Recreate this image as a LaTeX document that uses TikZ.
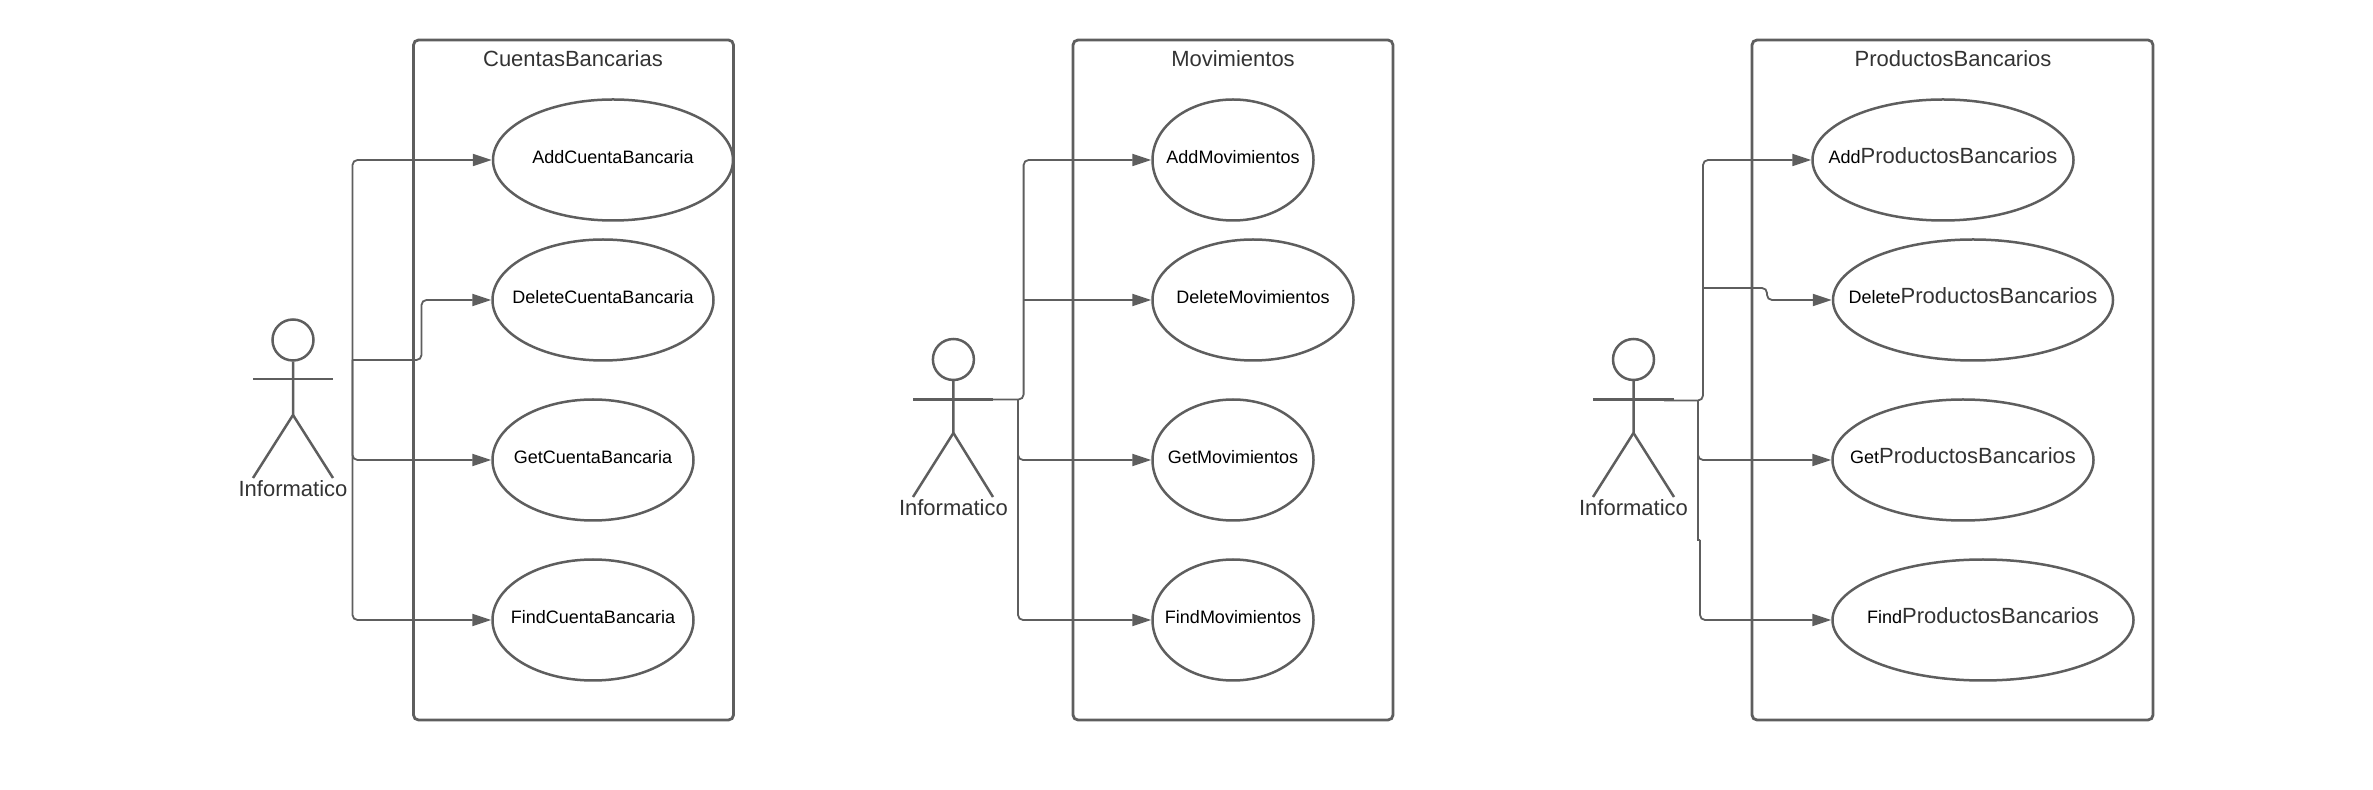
\documentclass[tikz,border=0pt]{standalone}
\usepackage{fontspec}
\setmainfont{Liberation Sans}
\usepackage{tikz}
\usetikzlibrary{arrows.meta,shapes.geometric}

\definecolor{umlgray}{HTML}{5E5E5E}
\definecolor{umltext}{HTML}{333333}
\newcommand{\wide}[1]{\makebox[0pt]{#1}}
\newcommand{\bigpart}[1]{{\fontsize{11}{13}\selectfont\color{umltext}#1}}

\tikzset{
  sysbox/.style={draw=umlgray,line width=1.4pt,rounded corners=2.5pt,minimum width=160pt,minimum height=340pt},
  systitle/.style={anchor=base,text=umltext,font=\fontsize{11}{13}\selectfont},
  usecase/.style={draw=umlgray,line width=1.25pt,ellipse,inner sep=0pt,minimum height=60.5pt,text height=7pt,text depth=3pt,font=\fontsize{9}{11}\selectfont},
  actorpart/.style={draw=umlgray,line width=1.25pt},
  actorhead/.style={actorpart,circle,inner sep=0pt,minimum size=20.5pt},
  actorname/.style={anchor=base,text=umltext,font=\fontsize{11}{13}\selectfont},
  link/.style={draw=umlgray,line width=.9pt,rounded corners=2.5pt,-{Triangle[length=9.5pt,width=6pt]}}
}

\begin{document}
\begin{tikzpicture}[x=.5pt,y=-.5pt]
      \useasboundingbox (0,0) rectangle (2373,790);

      % CuentasBancarias
      \node [sysbox] (box1) at (573.5,380) {};
      \node [systitle] (title1) at (573,66.5) {CuentasBancarias};
      \node [usecase,minimum width=120pt] (add1) at (613,160) {\wide{AddCuentaBancaria}};
      \node [usecase,minimum width=110.5pt] (del1) at (603,300) {\wide{DeleteCuentaBancaria}};
      \node [usecase,minimum width=100.5pt] (get1) at (593,460) {\wide{GetCuentaBancaria}};
      \node [usecase,minimum width=100.5pt] (find1) at (593,620) {\wide{FindCuentaBancaria}};

      \node [actorhead] (head1) at (293,340) {};
      \coordinate (hip1) at (293,415);
      \coordinate (armL1) at (253,379);
      \coordinate (armR1) at (333,379);
      \coordinate (footL1) at (253,478);
      \coordinate (footR1) at (333,478);
      \draw [actorpart] (head1) -- (hip1) -- (footL1);
      \draw [actorpart] (hip1) -- (footR1);
      \draw [actorpart] (armL1) -- (armR1);
      \node [actorname] (name1) at (293,496.5) {Informatico};

      \coordinate (from1) at (352.5,360);
      \coordinate (bend1) at (421.5,300);
      \draw [link] (from1) |- (add1.west);
      \draw [link] (from1) -| (bend1) -- (del1.west);
      \draw [link] (from1) |- (get1.west);
      \draw [link] (from1) |- (find1.west);

      % Movimientos
      \node [sysbox] (box2) at (1233,380) {};
      \node [systitle] (title2) at (1233,66.5) {Movimientos};
      \node [usecase,minimum width=80.5pt] (add2) at (1233,160) {\wide{AddMovimientos}};
      \node [usecase,minimum width=100.5pt] (del2) at (1253,300) {\wide{DeleteMovimientos}};
      \node [usecase,minimum width=80.5pt] (get2) at (1233,460) {\wide{GetMovimientos}};
      \node [usecase,minimum width=80.5pt] (find2) at (1233,620) {\wide{FindMovimientos}};

      \node [actorhead] (head2) at (953.4,359.5) {};
      \coordinate (hip2) at (953.4,433);
      \coordinate (armL2) at (913,399.5);
      \coordinate (armR2) at (993,399.5);
      \coordinate (footL2) at (913,497);
      \coordinate (footR2) at (993,497);
      \draw [actorpart] (head2) -- (hip2) -- (footL2);
      \draw [actorpart] (hip2) -- (footR2);
      \draw [actorpart] (armL2) -- (armR2);
      \node [actorname] (name2) at (953.4,516) {Informatico};

      \coordinate (from2) at (990.7,399.5);
      \coordinate (up2) at (1023.6,300);
      \coordinate (down2) at (1018,399.5);
      \draw [link] (from2) -| (up2) |- (add2.west);
      \draw [link] (up2) -- (del2.west);
      \draw [link] (down2) |- (get2.west);
      \draw [link] (down2) |- (find2.west);

      % ProductosBancarios
      \node [sysbox,minimum width=200.5pt] (box3) at (1952.5,380) {};
      \node [systitle] (title3) at (1953,66.5) {ProductosBancarios};
      \node [usecase,minimum width=130.5pt] (add3) at (1943,160) {\wide{Add\bigpart{ProductosBancarios}}};
      \node [usecase,minimum width=140pt] (del3) at (1973,300) {\wide{Delete\bigpart{ProductosBancarios}}};
      \node [usecase,minimum width=130.5pt] (get3) at (1963,460) {\wide{Get\bigpart{ProductosBancarios}}};
      \node [usecase,minimum width=150.5pt] (find3) at (1983,620) {\wide{Find\bigpart{ProductosBancarios}}};

      \node [actorhead] (head3) at (1633.5,359.5) {};
      \coordinate (hip3) at (1633.5,433);
      \coordinate (armL3) at (1593,399.5);
      \coordinate (armR3) at (1674,399.5);
      \coordinate (footL3) at (1593,497);
      \coordinate (footR3) at (1674,497);
      \draw [actorpart] (head3) -- (hip3) -- (footL3);
      \draw [actorpart] (hip3) -- (footR3);
      \draw [actorpart] (armL3) -- (armR3);
      \node [actorname] (name3) at (1633.5,516) {Informatico};

      \coordinate (from3) at (1664,400.5);
      \coordinate (up3) at (1703,288);
      \coordinate (step3) at (1767,288);
      \coordinate (down3) at (1698,400.5);
      \coordinate (jog3) at (1700,540);
      \draw [link] (from3) -| (up3) |- (add3.west);
      \draw [link] (up3) -- (step3) |- (del3.west);
      \draw [link] (down3) |- (get3.west);
      \draw [draw=umlgray,line width=.9pt] (down3) -- (1698,540) -- (jog3);
      \draw [link] (jog3) |- (find3.west);
    \end{tikzpicture}
\end{document}
